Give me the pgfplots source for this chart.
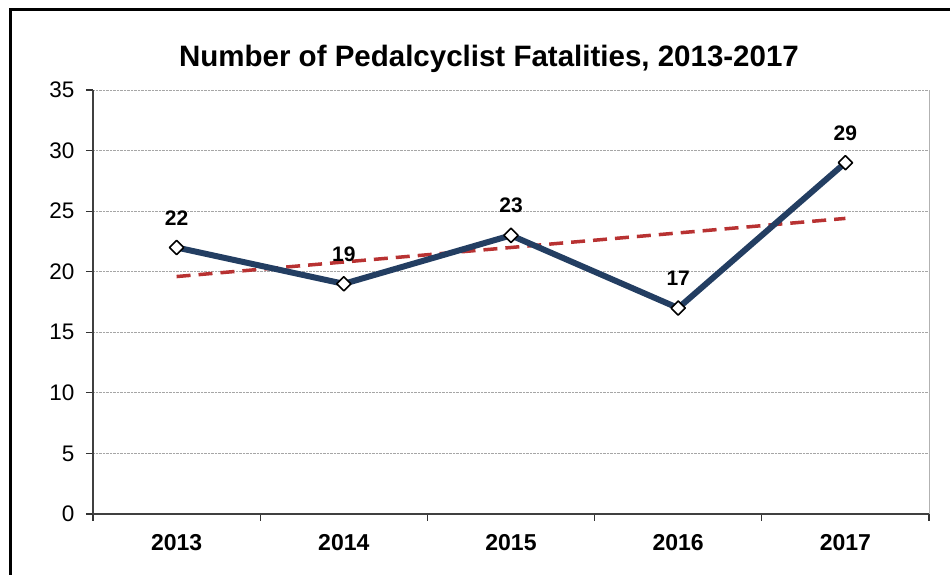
\documentclass[border=0pt]{standalone}
\usepackage{fontspec}
\setmainfont{Liberation Sans}
\usepackage{pgfplots}
\pgfplotsset{compat=1.18}
\definecolor{navy}{RGB}{35,62,98}
\definecolor{trendred}{RGB}{184,50,50}
\begin{document}
\begin{tikzpicture}[x=1pt,y=1pt]
\useasboundingbox (0,0) rectangle (950,575);
\draw[line width=3pt,black] (10,-10) -- (10,565) -- (960,565);
\node[font=\fontsize{29.5}{32}\selectfont\bfseries] at (489,516) {Number of Pedalcyclist Fatalities, 2013-2017};
\begin{axis}[
  at={(93pt,61pt)}, anchor=south west,
  scale only axis, width=836pt, height=424pt,
  xmin=-0.5, xmax=4.5, ymin=0, ymax=35,
  axis x line*=bottom, axis y line*=left,
  axis line style={line width=1.5pt, black!75},
  x axis line style={-},
  y axis line style={-},
  xtick={0,1,2,3,4},
  xticklabels={2013,2014,2015,2016,2017},
  major x tick style={draw=none},
  minor xtick={-0.5,0.5,1.5,2.5,3.5,4.5},
  minor x tick style={line width=1.2pt, black!80},
  minor tick length=7pt,
  ytick={0,5,...,35},
  major y tick style={line width=1.2pt, black!80},
  major tick length=7pt,
  tick align=outside,
  ymajorgrids,
  major grid style={densely dotted, gray!70, line width=0.8pt},
  /pgf/number format/assume math mode=true,
  yticklabel style={font=\fontsize{22.5}{25}\selectfont, xshift=-8pt},
  xticklabel style={font=\fontsize{23}{26}\selectfont\bfseries, yshift=-10pt},
  clip=false,
]
\addplot[trendred, line width=3.5pt, dash pattern=on 14pt off 8pt] coordinates {(0,19.6) (1,20.8) (2,22) (3,23.2) (4,24.4)};
\addplot[navy, line width=6pt, line join=round,
  mark=square*, mark size=5pt,
  mark options={fill=white, draw=black, line width=1.6pt, solid, rotate=45},
  nodes near coords,
  every node near coord/.append style={font=\fontsize{21}{23}\selectfont\bfseries, black, yshift=18pt},
] coordinates {(0,22) (1,19) (2,23) (3,17) (4,29)};
\draw[gray!60, line width=1pt] (rel axis cs:1,0) -- (rel axis cs:1,1);
\end{axis}
\end{tikzpicture}
\end{document}
